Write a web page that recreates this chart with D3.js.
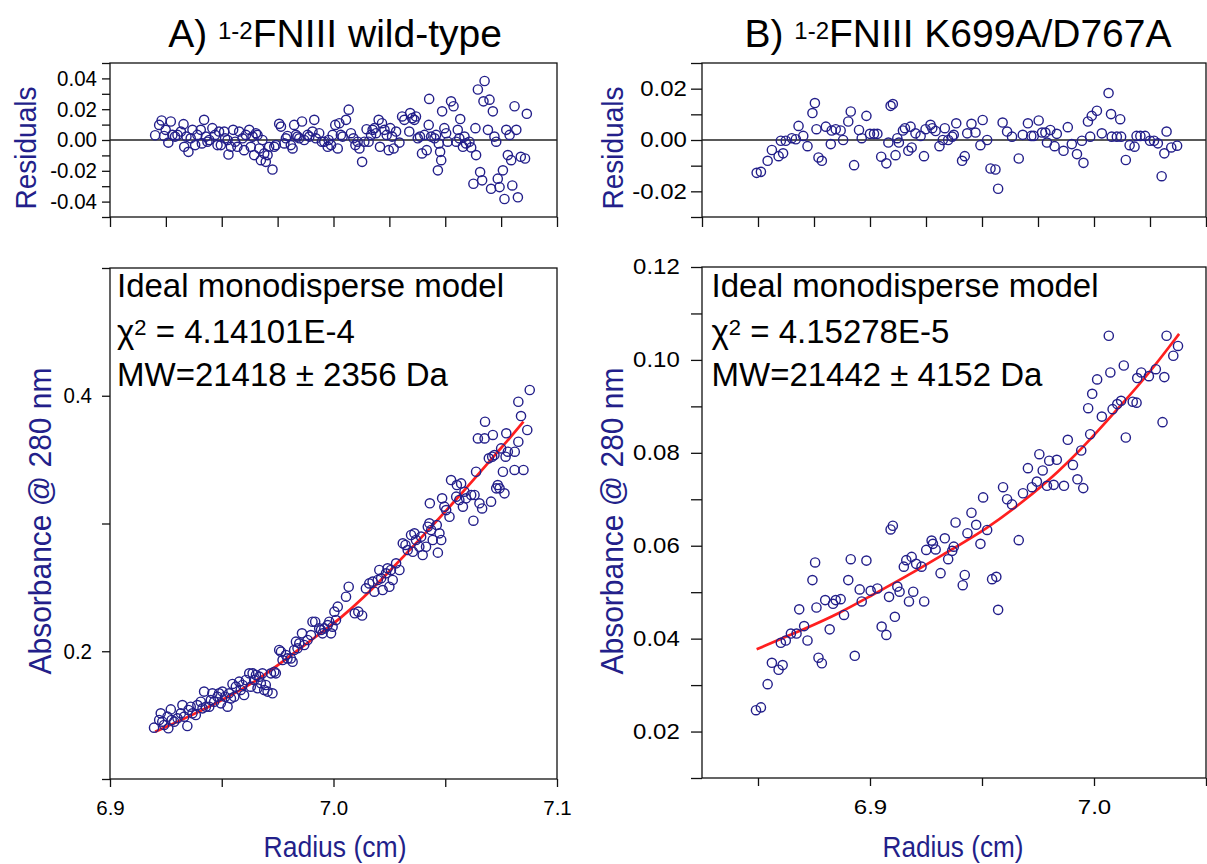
<!DOCTYPE html>
<html><head><meta charset="utf-8">
<script src="https://cdn.jsdelivr.net/npm/d3@7"></script>
<style>
body{margin:0;background:#fff}
svg{display:block}
text{font-family:"Liberation Sans",Arial,Helvetica,sans-serif}
</style>
</head><body>
<svg id="c" width="1207" height="864"></svg>
<script>
// ---------------- DATA ----------------
// Panel A: wild-type — residuals [radius (cm), residual]
const wtResiduals = [[6.9202,0.0031],[6.9220,0.0098],[6.9231,0.0127],[6.9242,0.0026],[6.9249,0.0066],[6.9261,-0.0017],[6.9272,0.0120],[6.9279,0.0033],[6.9291,0.0022],[6.9302,0.0033],[6.9317,0.0055],[6.9329,0.0103],[6.9332,-0.0044],[6.9342,0.0022],[6.9351,-0.0077],[6.9361,0.0011],[6.9369,0.0066],[6.9381,-0.0033],[6.9391,0.0033],[6.9406,0.0066],[6.9411,-0.0022],[6.9421,0.0131],[6.9429,0.0022],[6.9436,-0.0011],[6.9444,0.0000],[6.9458,0.0077],[6.9470,0.0033],[6.9481,-0.0033],[6.9488,0.0055],[6.9496,-0.0033],[6.9511,0.0055],[6.9515,0.0011],[6.9526,0.0000],[6.9530,-0.0094],[6.9541,-0.0044],[6.9551,0.0066],[6.9560,-0.0011],[6.9570,-0.0044],[6.9578,0.0055],[6.9593,0.0011],[6.9600,-0.0066],[6.9608,0.0033],[6.9623,0.0066],[6.9630,-0.0044],[6.9638,0.0022],[6.9645,-0.0098],[6.9653,0.0044],[6.9660,0.0033],[6.9668,-0.0055],[6.9675,-0.0131],[6.9682,0.0000],[6.9690,-0.0087],[6.9697,-0.0142],[6.9705,-0.0098],[6.9712,-0.0044],[6.9727,-0.0192],[6.9735,-0.0044],[6.9742,-0.0033],[6.9757,0.0105],[6.9765,0.0087],[6.9780,-0.0022],[6.9787,0.0011],[6.9794,0.0026],[6.9809,-0.0033],[6.9817,-0.0055],[6.9824,0.0098],[6.9832,0.0033],[6.9839,0.0022],[6.9847,0.0011],[6.9859,0.0120],[6.9869,0.0000],[6.9884,0.0033],[6.9892,0.0022],[6.9906,0.0055],[6.9914,0.0131],[6.9921,0.0011],[6.9936,0.0044],[6.9948,-0.0011],[6.9959,-0.0011],[6.9974,-0.0044],[6.9978,0.0000],
[6.9989,-0.0033],[6.9996,0.0033],[7.0008,0.0098],[7.0019,-0.0055],[7.0026,0.0109],[7.0033,0.0033],[7.0041,0.0022],[7.0056,0.0131],[7.0068,0.0197],[7.0078,0.0044],[7.0089,0.0011],[7.0098,-0.0033],[7.0108,-0.0011],[7.0116,-0.0055],[7.0128,-0.0142],[7.0138,-0.0011],[7.0148,0.0070],[7.0157,-0.0011],[7.0168,0.0033],[7.0175,0.0066],[7.0183,0.0077],[7.0190,0.0044],[7.0202,0.0131],[7.0208,-0.0044],[7.0217,0.0109],[7.0228,0.0066],[7.0238,0.0033],[7.0247,-0.0066],[7.0254,0.0077],[7.0262,0.0022],[7.0269,-0.0055],[7.0280,0.0055],[7.0295,-0.0017],[7.0307,0.0153],[7.0317,0.0131],[7.0339,0.0055],[7.0343,0.0175],[7.0352,0.0142],[7.0362,0.0131],[7.0369,0.0153],[7.0377,0.0011],[7.0387,0.0022],[7.0396,-0.0087],[7.0407,0.0033],[7.0417,-0.0066],[7.0426,0.0098],[7.0428,0.0267],[7.0437,0.0022],[7.0452,0.0011],[7.0459,0.0033],[7.0467,-0.0197],[7.0471,-0.0022],[7.0477,-0.0077],[7.0482,-0.0131],[7.0486,0.0186],[7.0496,0.0077],[7.0504,0.0044],[7.0511,-0.0011],[7.0526,0.0251],[7.0537,0.0219],[7.0549,-0.0011],[7.0556,0.0066],[7.0563,0.0011],[7.0567,0.0136],[7.0579,-0.0044],[7.0586,0.0022],[7.0593,-0.0022],[7.0608,-0.0011],[7.0616,-0.0048],[7.0626,-0.0284],[7.0635,0.0077],[7.0638,-0.0098],[7.0646,0.0328],[7.0656,-0.0208],[7.0665,-0.0262],[7.0671,0.0251],[7.0676,0.0383],[7.0691,0.0066],[7.0698,0.0262],[7.0705,-0.0317],[7.0713,0.0186],[7.0720,0.0022],[7.0728,-0.0011],[7.0735,-0.0251],[7.0743,-0.0306],[7.0758,-0.0197],[7.0765,-0.0383],[7.0773,0.0066],[7.0780,-0.0098],[7.0788,0.0033],[7.0795,-0.0131],[7.0800,-0.0295],[7.0810,0.0219],[7.0818,0.0066],[7.0825,-0.0372],[7.0838,-0.0109],[7.0857,-0.0120],[7.0865,0.0170]];

// Panel A: absorbance data [radius, A280]
const wtAbsorbance = [[6.9197,0.1402],[6.9220,0.1462],[6.9227,0.1514],[6.9234,0.1449],[6.9242,0.1423],[6.9257,0.1488],[6.9261,0.1397],[6.9272,0.1545],[6.9276,0.1462],[6.9287,0.1449],[6.9302,0.1475],[6.9317,0.1514],[6.9324,0.1579],[6.9332,0.1488],[6.9346,0.1415],[6.9351,0.1540],[6.9361,0.1566],[6.9369,0.1514],[6.9384,0.1501],[6.9391,0.1579],[6.9406,0.1605],[6.9414,0.1553],[6.9421,0.1684],[6.9429,0.1566],[6.9444,0.1566],[6.9451,0.1618],[6.9458,0.1671],[6.9466,0.1605],[6.9481,0.1644],[6.9488,0.1671],[6.9496,0.1592],[6.9503,0.1684],[6.9515,0.1644],[6.9526,0.1566],[6.9533,0.1671],[6.9541,0.1631],[6.9548,0.1744],[6.9556,0.1644],[6.9563,0.1723],[6.9578,0.1762],[6.9585,0.1697],[6.9593,0.1736],[6.9600,0.1657],[6.9608,0.1775],[6.9623,0.1827],[6.9630,0.1723],[6.9638,0.1827],[6.9645,0.1775],[6.9653,0.1814],[6.9660,0.1710],[6.9668,0.1801],[6.9675,0.1749],[6.9682,0.1827],[6.9690,0.1697],[6.9697,0.1736],[6.9705,0.1684],[6.9720,0.1827],[6.9727,0.1671],[6.9735,0.1840],[6.9742,0.1827],[6.9757,0.2010],[6.9765,0.1997],[6.9772,0.1931],[6.9787,0.1971],[6.9794,0.1944],[6.9809,0.1944],[6.9817,0.1918],[6.9824,0.2010],[6.9832,0.2075],[6.9839,0.2023],[6.9847,0.2062],[6.9859,0.2140],[6.9869,0.2049],[6.9884,0.2088],[6.9899,0.2127],[6.9906,0.2231],[6.9918,0.2231],[6.9936,0.2179],[6.9944,0.2166],[6.9951,0.2140],[6.9959,0.2179],[6.9974,0.2205],[6.9981,0.2231],[6.9989,0.2140],[6.9996,0.2192],[7.0004,0.2310],[7.0011,0.2244],[7.0019,0.2349],
[7.0056,0.2427],[7.0068,0.2505],[7.0095,0.2297],[7.0111,0.2310],[7.0128,0.2280],
[7.0145,0.2492],[7.0160,0.2531],[7.0175,0.2545],[7.0183,0.2466],[7.0198,0.2558],[7.0205,0.2636],[7.0213,0.2571],[7.0220,0.2479],[7.0235,0.2610],[7.0242,0.2649],[7.0250,0.2505],[7.0257,0.2636],[7.0265,0.2558],[7.0280,0.2688],[7.0295,0.2636],[7.0310,0.2845],[7.0322,0.2832],[7.0332,0.2792],[7.0347,0.2910],[7.0355,0.2779],[7.0362,0.2923],[7.0369,0.2871],[7.0384,0.2818],[7.0392,0.2897],[7.0399,0.2753],[7.0414,0.2818],[7.0422,0.2975],[7.0429,0.3001],[7.0431,0.3158],[7.0437,0.2949],[7.0444,0.2871],[7.0462,0.2988],[7.0467,0.2772],[7.0474,0.2923],[7.0482,0.2871],[7.0486,0.3197],[7.0496,0.3132],[7.0504,0.3105],[7.0519,0.3053],[7.0526,0.3340],[7.0549,0.3210],[7.0552,0.3301],[7.0563,0.3184],[7.0571,0.3314],[7.0579,0.3132],[7.0586,0.3249],[7.0593,0.3197],[7.0616,0.3223],[7.0626,0.3022],[7.0631,0.3223],[7.0638,0.3405],[7.0646,0.3666],[7.0653,0.3158],[7.0665,0.3118],[7.0676,0.3666],[7.0678,0.3797],[7.0695,0.3510],[7.0705,0.3171],[7.0710,0.3523],[7.0713,0.3693],[7.0720,0.3536],[7.0728,0.3275],[7.0735,0.3301],[7.0743,0.3275],[7.0750,0.3588],[7.0758,0.3405],[7.0765,0.3236],[7.0770,0.3523],[7.0773,0.3706],[7.0780,0.3562],[7.0810,0.3419],[7.0811,0.3562],[7.0827,0.3953],[7.0827,0.3640],[7.0839,0.3841],[7.0850,0.3419],[7.0867,0.3732],[7.0878,0.4045]];

// Panel A: fitted model curve [radius, A280]
const wtFit = [[6.9202,0.1370],[6.9354,0.1488],[6.9503,0.1618],[6.9653,0.1762],[6.9802,0.1958],[6.9951,0.2153],[7.0026,0.2250],[7.0138,0.2425],[7.0235,0.2597],[7.0384,0.2871],[7.0534,0.3158],[7.0638,0.3366],[7.0728,0.3549],[7.0788,0.3666],[7.0850,0.3797]];

// Panel B: K699A/D767A — residuals
const mutResiduals = [[6.8494,-0.0128],[6.8513,-0.0124],[6.8543,-0.0081],[6.8562,-0.0039],[6.8592,-0.0063],[6.8602,-0.0003],[6.8612,-0.0052],[6.8624,-0.0003],[6.8651,0.0007],[6.8669,0.0003],[6.8681,0.0055],[6.8702,0.0016],[6.8721,-0.0024],[6.8743,0.0105],[6.8754,0.0144],[6.8761,0.0042],[6.8770,-0.0068],[6.8785,-0.0081],[6.8803,0.0052],[6.8825,-0.0016],[6.8829,0.0037],[6.8847,0.0042],[6.8869,0.0037],[6.8880,0.0000],[6.8903,0.0072],[6.8914,0.0111],[6.8929,-0.0098],[6.8951,0.0039],[6.8963,0.0007],[6.8984,0.0094],[6.9000,0.0024],[6.9018,0.0024],[6.9033,0.0024],[6.9050,-0.0065],[6.9073,-0.0091],[6.9082,-0.0010],[6.9092,0.0133],[6.9102,0.0140],[6.9114,-0.0059],[6.9122,0.0007],[6.9129,-0.0010],[6.9147,0.0037],[6.9156,0.0046],[6.9171,-0.0042],[6.9181,0.0052],[6.9186,-0.0029],[6.9203,0.0026],[6.9226,0.0016],[6.9241,-0.0063],[6.9248,0.0042],[6.9270,0.0059],[6.9278,0.0046],[6.9293,0.0035],[6.9310,-0.0024],[6.9325,0.0000],[6.9334,0.0046],[6.9349,0.0000],[6.9367,0.0013],[6.9374,0.0020],[6.9385,0.0065],[6.9411,-0.0081],[6.9423,-0.0063],[6.9434,0.0026],[6.9453,0.0063],[6.9471,0.0029],[6.9493,-0.0020],[6.9503,0.0078],[6.9523,0.0000],[6.9538,-0.0111],[6.9560,-0.0115],[6.9572,-0.0190],[6.9592,0.0068],[6.9612,0.0033],[6.9634,0.0013],[6.9664,-0.0072],[6.9682,0.0020],[6.9705,0.0065],[6.9720,0.0016],[6.9731,0.0016],[6.9753,0.0076],[6.9768,0.0029],[6.9783,0.0029],[6.9790,-0.0010],[6.9805,0.0039],[6.9824,-0.0024],[6.9834,0.0024],[6.9864,-0.0042],[6.9883,0.0050],[6.9901,-0.0016],[6.9924,-0.0055],[6.9946,-0.0003],[6.9953,-0.0089],[6.9973,0.0072],[6.9983,0.0013],[6.9990,0.0094],[7.0013,0.0114],[7.0035,0.0026],[7.0065,0.0183],[7.0076,0.0101],[7.0079,0.0013],[7.0102,0.0013],[7.0117,0.0081],[7.0121,0.0013],[7.0142,-0.0078],[7.0159,-0.0020],[7.0181,-0.0026],[7.0190,0.0016],[7.0207,0.0016],[7.0228,0.0016],[7.0250,-0.0003],[7.0268,-0.0003],[7.0285,-0.0013],[7.0302,-0.0141],[7.0314,-0.0052],[7.0324,0.0033],[7.0345,-0.0029],[7.0371,-0.0022]];

// Panel B: absorbance data
const mutAbsorbance = [[6.8491,0.0246],[6.8513,0.0252],[6.8543,0.0302],[6.8562,0.0348],[6.8592,0.0333],[6.8610,0.0343],[6.8602,0.0391],[6.8624,0.0396],[6.8647,0.0411],[6.8672,0.0411],[6.8684,0.0463],[6.8706,0.0427],[6.8721,0.0396],[6.8743,0.0526],[6.8755,0.0564],[6.8761,0.0467],[6.8770,0.0359],[6.8785,0.0347],[6.8800,0.0483],[6.8820,0.0420],[6.8835,0.0475],[6.8847,0.0483],[6.8869,0.0485],[6.8884,0.0451],[6.8903,0.0526],[6.8914,0.0571],[6.8932,0.0363],[6.8954,0.0506],[6.8963,0.0480],[6.8984,0.0568],[6.9003,0.0503],[6.9033,0.0508],[6.9052,0.0426],[6.9073,0.0408],[6.9085,0.0490],[6.9092,0.0635],[6.9102,0.0643],[6.9111,0.0447],[6.9122,0.0512],[6.9132,0.0501],[6.9151,0.0555],[6.9162,0.0569],[6.9174,0.0480],[6.9186,0.0576],[6.9193,0.0501],[6.9206,0.0561],[6.9230,0.0555],[6.9242,0.0480],[6.9251,0.0591],[6.9275,0.0611],[6.9281,0.0604],[6.9293,0.0592],[6.9315,0.0541],[6.9334,0.0616],[6.9349,0.0571],[6.9367,0.0589],[6.9374,0.0598],[6.9382,0.0650],[6.9414,0.0515],[6.9423,0.0537],[6.9435,0.0627],[6.9453,0.0671],[6.9474,0.0645],[6.9493,0.0604],[6.9505,0.0704],[6.9523,0.0634],[6.9545,0.0528],[6.9564,0.0533],[6.9572,0.0462],[6.9594,0.0726],[6.9612,0.0700],[6.9634,0.0689],[6.9664,0.0612],[6.9683,0.0713],[6.9705,0.0767],[6.9723,0.0726],[6.9745,0.0738],[6.9756,0.0797],[6.9771,0.0762],[6.9790,0.0729],[6.9800,0.0783],[6.9820,0.0731],[6.9834,0.0785],[6.9866,0.0729],[6.9883,0.0828],[6.9906,0.0774],[6.9926,0.0743],[6.9943,0.0805],[6.9952,0.0724],[6.9974,0.0896],[6.9983,0.0840],[6.9992,0.0927],[7.0014,0.0958],[7.0035,0.0878],[7.0066,0.1052],[7.0073,0.0973],[7.0083,0.0894],[7.0104,0.0905],[7.0121,0.0912],[7.0133,0.0988],[7.0142,0.0833],[7.0173,0.0910],[7.0190,0.0908],[7.0193,0.0961],[7.0211,0.0973],[7.0245,0.0965],[7.0276,0.0980],[7.0306,0.0866],[7.0314,0.0963],[7.0324,0.1052],[7.0354,0.1009],[7.0375,0.1030]];

// Panel B: fitted model curve
const mutFit = [[6.8494,0.0377],[6.8713,0.0422],[6.8861,0.0454],[6.9010,0.0494],[6.9159,0.0533],[6.9337,0.0584],[6.9523,0.0637],[6.9679,0.0693],[6.9842,0.0759],[6.9983,0.0828],[7.0121,0.0903],[7.0241,0.0968],[7.0380,0.1056]];

// Axis domains and ticks
const wtXDomain = [6.9, 7.1];
const mutXDomain = [6.825, 7.05];
const wtResidYDomain = [-0.05, 0.05];
const mutResidYDomain = [-0.03, 0.03];
const wtAbsYDomain = [0.1, 0.5];
const mutAbsYDomain = [0.01, 0.12];

const wtResidXTicks = [6.9,6.925,6.95,6.975,7.0,7.025,7.05,7.075,7.1];
const mutResidXTicks = [6.825,6.85,6.875,6.9,6.925,6.95,6.975,7.0,7.025,7.05];
const wtMainXTicks = [6.9,6.95,7.0,7.05,7.1];
const wtMainXLabels = ["6.9","7.0","7.1"];
const mutMainXTicks = [6.85,6.9,6.95,7.0,7.05];
const mutMainXLabels = ["6.9","7.0"];
const wtResidYTicks = [-0.05,-0.04,-0.03,-0.02,-0.01,0,0.01,0.02,0.03,0.04,0.05];
const wtResidYLabels = ["-0.04","-0.02","0.00","0.02","0.04"];
const mutResidYTicks = [-0.03,-0.02,-0.01,0,0.01,0.02,0.03];
const mutResidYLabels = ["-0.02","0.00","0.02"];
const wtAbsYTicks = [0.1,0.2,0.3,0.4,0.5];
const wtAbsYLabels = ["0.2","0.4"];
const mutAbsYTicks = [0.01,0.02,0.03,0.04,0.05,0.06,0.07,0.08,0.09,0.10,0.11,0.12];
const mutAbsYLabels = ["0.02","0.04","0.06","0.08","0.10","0.12"];

const titles = [{pre:"A) ", sup:"1-2", post:"FNIII wild-type"}, {pre:"B) ", sup:"1-2", post:"FNIII K699A/D767A"}];
const modelName = "Ideal monodisperse model";
const chiValues = ["4.14101E-4", "4.15278E-5"];
const mwTexts = ["MW=21418 \u00B1 2356 Da", "MW=21442 \u00B1 4152 Da"];
const yTitleResid = "Residuals";
const yTitleAbs = "Absorbance @ 280 nm";
const xTitle = "Radius (cm)";

// ---------------- DRAWING ----------------
const svg = d3.select("#c");
const NAVY = "#231f8a";
const RED = "#ff1f1f";
const AX = "#111";

function labelFor(labels, v){
  if (!labels) return "";
  const hit = labels.find(l => Math.abs(parseFloat(l) - v) < 1e-9);
  return hit === undefined ? "" : hit;
}

function panel(o){
  const x = d3.scaleLinear().domain(o.xd).range(o.xr);
  const y = d3.scaleLinear().domain(o.yd).range(o.yr);
  const g = svg.append("g");
  const x0 = o.xr[0], x1 = o.xr[1], yb = o.yr[0], yt = o.yr[1];

  const ya = g.append("g").attr("transform", `translate(${x0},0)`)
    .call(d3.axisLeft(y).tickValues(o.yTicks).tickSize(o.yTick).tickPadding(o.yPad)
      .tickFormat(v => labelFor(o.yLabels, v)));
  ya.attr("font-family", null).attr("font-size", null);
  ya.select(".domain").remove();
  ya.selectAll("line").attr("stroke", AX).attr("stroke-width", 1.3);
  ya.selectAll("text").attr("fill", "#000").style("font-size", o.tickFont + "px")
    .attr("transform", `scale(${o.sx || 1},1.06)`);

  const xa = g.append("g").attr("transform", `translate(0,${yb})`)
    .call(d3.axisBottom(x).tickValues(o.xTicks).tickSize(o.xTick).tickPadding(o.xPad)
      .tickFormat(v => labelFor(o.xLabels, v)));
  xa.attr("font-family", null).attr("font-size", null);
  xa.select(".domain").remove();
  xa.selectAll("line").attr("stroke", AX).attr("stroke-width", 1.3);
  xa.selectAll("text").attr("fill", "#000").style("font-size", o.tickFont + "px")
    .attr("transform", o.sx ? `scale(${o.sx},1)` : null);

  g.append("rect").attr("x", x0).attr("y", yt).attr("width", x1 - x0).attr("height", yb - yt)
    .attr("fill", "none").attr("stroke", AX).attr("stroke-width", 1.3);

  if (o.zero) {
    g.append("line").attr("x1", x0).attr("x2", x1).attr("y1", y(0)).attr("y2", y(0))
      .attr("stroke", "#222").attr("stroke-width", 1.7);
  }
  if (o.fit) {
    g.append("path").datum(o.fit)
      .attr("d", d3.line().x(d => x(d[0])).y(d => y(d[1])).curve(d3.curveBasis))
      .attr("fill", "none").attr("stroke", RED).attr("stroke-width", 2.7);
  }
  g.append("g").selectAll("circle").data(o.pts).join("circle")
    .attr("cx", d => x(d[0])).attr("cy", d => y(d[1])).attr("r", 4.6)
    .attr("fill", "none").attr("stroke", NAVY).attr("stroke-width", 1.4);
}

panel({xd: wtXDomain, xr: [110, 557], yd: wtResidYDomain, yr: [217, 63],
  yTicks: wtResidYTicks, yLabels: wtResidYLabels, yTick: 8, yPad: 5,
  xTicks: wtResidXTicks, xLabels: null, xTick: 10, xPad: 4, tickFont: 20.5,
  pts: wtResiduals, zero: true});
panel({xd: wtXDomain, xr: [110, 557], yd: wtAbsYDomain, yr: [779, 268],
  yTicks: wtAbsYTicks, yLabels: wtAbsYLabels, yTick: 8, yPad: 10,
  xTicks: wtMainXTicks, xLabels: wtMainXLabels, xTick: 8, xPad: 13.5, tickFont: 20.5,
  pts: wtAbsorbance, fit: wtFit});
panel({xd: mutXDomain, xr: [702, 1206], yd: mutResidYDomain, yr: [217, 63],
  yTicks: mutResidYTicks, yLabels: mutResidYLabels, yTick: 11, yPad: 2,
  xTicks: mutResidXTicks, xLabels: null, xTick: 10, xPad: 4, tickFont: 20.5, sx: 1.17,
  pts: mutResiduals, zero: true});
panel({xd: mutXDomain, xr: [702, 1206], yd: mutAbsYDomain, yr: [778, 267],
  yTicks: mutAbsYTicks, yLabels: mutAbsYLabels, yTick: 11, yPad: 8,
  xTicks: mutMainXTicks, xLabels: mutMainXLabels, xTick: 8, xPad: 13.5, tickFont: 20.5, sx: 1.17,
  pts: mutAbsorbance, fit: mutFit});

function title(cx, t){
  const el = svg.append("text").attr("x", cx).attr("y", 47).attr("text-anchor", "middle")
    .style("font-size", "39px").attr("fill", "#000");
  el.append("tspan").text(t.pre);
  el.append("tspan").attr("dy", -8).style("font-size", "24px").text(t.sup);
  el.append("tspan").attr("dy", 8).text(t.post);
}
title(335, titles[0]);
title(958, titles[1]);

function annot(x, i){
  const fs = "33px";
  svg.append("text").attr("x", x).attr("y", 297).style("font-size", fs).text(modelName);
  const t = svg.append("text").attr("x", x).attr("y", 343).style("font-size", fs);
  t.append("tspan").text("\u03C7");
  t.append("tspan").attr("dy", -8).style("font-size", "22px").text("2");
  t.append("tspan").attr("dy", 8).text(" = " + chiValues[i]);
  svg.append("text").attr("x", x).attr("y", 386).style("font-size", fs).text(mwTexts[i]);
}
annot(117, 0);
annot(711.5, 1);

function vtitle(x, y, txt, fs, len){
  svg.append("text").attr("transform", `translate(${x},${y}) rotate(-90)`)
    .attr("text-anchor", "middle").style("font-size", fs + "px").attr("fill", NAVY)
    .attr("textLength", len).attr("lengthAdjust", "spacingAndGlyphs").text(txt);
}
vtitle(36, 148, yTitleResid, 30, 123);
vtitle(623, 148, yTitleResid, 30, 123);
vtitle(50.5, 521, yTitleAbs, 30.5, 307);
vtitle(622.5, 521, yTitleAbs, 30.5, 307);

function htitle(x, txt, len){
  svg.append("text").attr("x", x).attr("y", 857).attr("text-anchor", "middle")
    .style("font-size", "30px").attr("fill", NAVY)
    .attr("textLength", len).attr("lengthAdjust", "spacingAndGlyphs").text(txt);
}
htitle(335, xTitle, 143);
htitle(953, xTitle, 141);
</script>
</body></html>
